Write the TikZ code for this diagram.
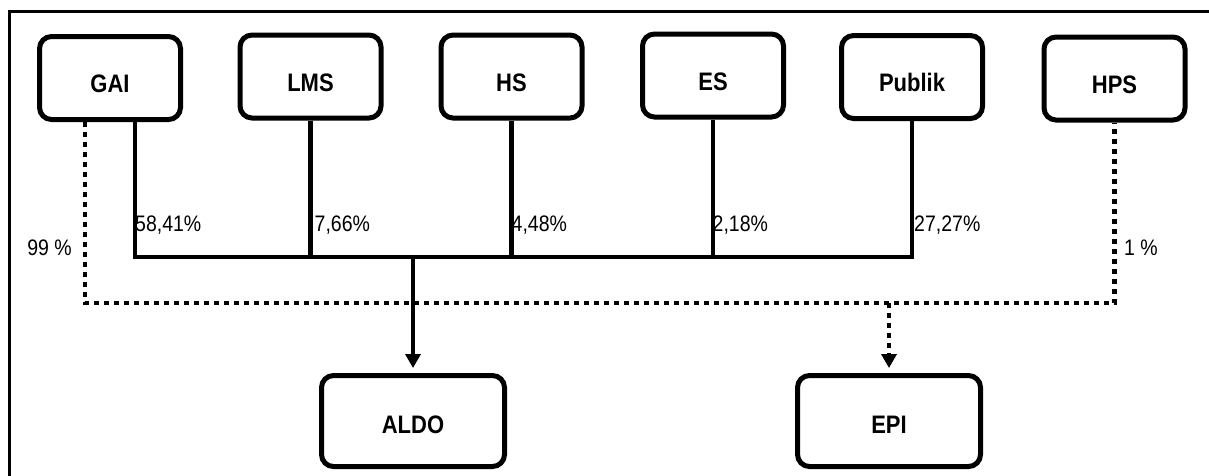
\documentclass[tikz,border=0pt]{standalone}
\usepackage{fontspec}
\setmainfont{Liberation Sans}
\usetikzlibrary{arrows.meta}
\newcommand{\tall}[1]{\scalebox{1}[1.15]{#1}}
\tikzset{
  unit/.style={draw, line width=5pt, rounded corners=12pt, fill=white,
    minimum width=141pt, minimum height=83pt, text height=29pt, text depth=0pt,
    font=\bfseries\fontsize{22}{26}\selectfont},
  sink/.style={unit, minimum width=183pt, minimum height=91pt, text height=24pt},
  link/.style={line width=4.2pt},
  dots/.style={line width=4.5pt, dash pattern=on 5pt off 5pt},
  share/.style={inner sep=0pt, font=\fontsize{19.5}{23}\selectfont},
  tip/.style={-{Triangle[width=15pt,length=14pt]}, shorten >=5pt}
}
\begin{document}
\begin{tikzpicture}[x=1pt, y=-1pt]
\useasboundingbox (0,0) rectangle (1209,475);
% frame
\draw[line width=3pt] (9.5,490) -- (9.5,11.3) -- (1220,11.3);
% sources
\node[unit] (gai) at (110,78) {\tall{GAI}};
\node[unit] (lms) at (310.5,76.5) {\tall{LMS}};
\node[unit] (hs) at (511.5,76.5) {\tall{HS}};
\node[unit] (es) at (713,75.5) {\tall{ES}};
\node[unit] (pub) at (912,77) {\tall{Publik}};
\node[unit] (hps) at (1114.5,78.5) {\tall{HPS}};
% targets
\node[sink] (aldo) at (413,421) {\tall{ALDO}};
\node[sink] (epi) at (889,421) {\tall{EPI}};
% bus points
\coordinate (b1) at (135,257);
\coordinate (d1) at (85,303);
% solid flows to ALDO
\draw[link] (gai.south -| b1) -- (b1) -- (b1 -| pub.south) -- (pub.south);
\draw[link] (lms.south) -- (lms.south |- b1);
\draw[link] (hs.south) -- (hs.south |- b1);
\draw[link] (es.south) -- (es.south |- b1);
\draw[link, tip] (aldo.north |- b1) -- (aldo.north);
% dotted flows to EPI
\draw[dots] (gai.south -| d1) -- (d1) -- (d1 -| hps.south) -- (hps.south);
\draw[dots, tip] (epi.north |- d1) -- (epi.north);
% shares
\node[share, anchor=base west] (sgai) at (135,231) {\tall{58,41\%}};
\node[share, anchor=base west] (slms) at (314.5,231) {\tall{7,66\%}};
\node[share, anchor=base west] (shs) at (511.5,231) {\tall{4,48\%}};
\node[share, anchor=base west] (ses) at (712.5,231) {\tall{2,18\%}};
\node[share, anchor=base west] (spub) at (914,231) {\tall{27,27\%}};
\node[share, anchor=base east] (sepi) at (72,255) {\tall{99 \%}};
\node[share, anchor=base west] (shps) at (1124,255) {\tall{1 \%}};
\end{tikzpicture}
\end{document}
